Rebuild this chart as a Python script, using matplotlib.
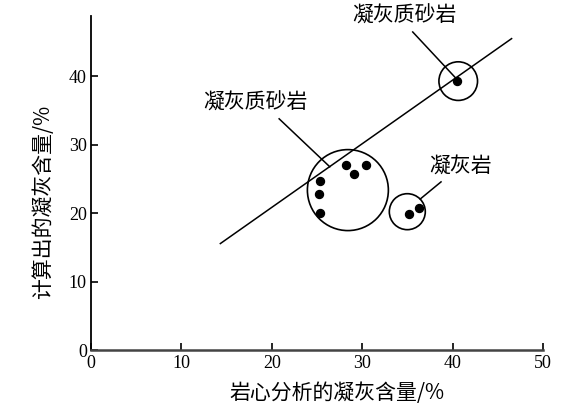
import matplotlib
matplotlib.use('Agg')
import matplotlib.pyplot as plt

plt.rcParams['font.family'] = ['Liberation Serif', 'Noto Sans CJK SC', 'DejaVu Sans']

# data
core_x = [40.5, 25.35, 25.2, 25.35, 28.2, 29.1, 30.4, 35.2, 36.3]
calc_y = [39.3, 24.7, 22.8, 20.0, 27.1, 25.8, 27.0, 19.95, 20.8]

fit_x = [14.3, 46.5]
fit_y = [15.6, 45.5]

# grouping circles: centre x, centre y, diameter (pt)
ring_x = [28.4, 34.97, 40.6]
ring_y = [23.4, 20.25, 39.3]
ring_d = [58.3, 25.9, 27.8]

labels = ['凝灰质砂岩', '凝灰质砂岩', '凝灰岩']
label_x = [34.66, 18.16, 40.9]
label_y = [48.9, 36.1, 26.9]
leader_x = [[35.57, 40.5], [20.8, 26.4], [38.7, 36.4]]
leader_y = [[46.47, 39.5], [33.8, 26.8], [24.6, 22.1]]

xticks = [0, 10, 20, 30, 40, 50]
yticks = [0, 10, 20, 30, 40]

cjk = ['Noto Sans CJK SC', 'DejaVu Sans']

fig = plt.figure(figsize=(5.66, 4.2), dpi=100)
ax = fig.add_axes([0.1608, 0.1655, 0.799, 0.7964])

ax.plot(fit_x, fit_y, color='black', lw=1.1)
ax.scatter(core_x, calc_y, s=33, color='black', zorder=3)
ax.scatter(ring_x, ring_y, s=[d ** 2 for d in ring_d], facecolors='none',
           edgecolors='black', linewidths=1.2, zorder=2)

for t, tx, ty, lx, ly in zip(labels, label_x, label_y, leader_x, leader_y):
    ax.plot(lx, ly, color='black', lw=1.1)
    ax.text(tx, ty, t, ha='center', va='center', fontsize=15, family=cjk)

ax.set_xlim(0, 50)
ax.set_ylim(0, 48.8)
ax.set_xticks(xticks)
ax.set_yticks(yticks)
ax.tick_params(direction='in', length=5, width=1.2, labelsize=13, pad=3)
for s in ['top', 'right']:
    ax.spines[s].set_visible(False)
ax.spines['left'].set_linewidth(1.3)
ax.spines['bottom'].set_linewidth(1.8)
ax.spines['bottom'].set_color('#444444')

ax.text(0.545, -0.127, '岩心分析的凝灰含量/%', transform=ax.transAxes,
        ha='center', va='center', fontsize=15, family=cjk)
ax.text(-0.107, 0.445, '计算出的凝灰含量/%', transform=ax.transAxes,
        ha='center', va='center', rotation=90, fontsize=15, family=cjk)

fig.savefig('out.png', dpi=100)
